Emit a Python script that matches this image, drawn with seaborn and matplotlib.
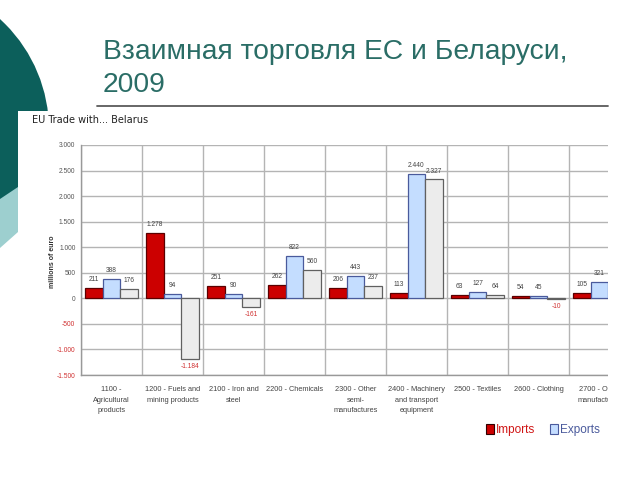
import numpy as np
import pandas as pd
import matplotlib
matplotlib.use("Agg")
import matplotlib.pyplot as plt
import seaborn as sns
from matplotlib.patches import Circle, Polygon, Rectangle, Patch

categories = ["1100 -\nAgricultural\nproducts", "1200 - Fuels and\nmining products",
              "2100 - Iron and\nsteel", "2200 - Chemicals", "2300 - Other\nsemi-\nmanufactures",
              "2400 - Machinery\nand transport\nequipment", "2500 - Textiles",
              "2600 - Clothing", "2700 - Other\nmanufactures"]
imports = [211, 1278, 251, 262, 206, 113, 63, 54, 105]
exports = [388, 94, 90, 822, 443, 2440, 127, 45, 321]
balance = [176, -1184, -161, 560, 237, 2327, 64, -10, np.nan]
series = ["Imports", "Exports", "Balance"]
yticks = [-1500, -1000, -500, 0, 500, 1000, 1500, 2000, 2500, 3000]

def fmt(v):
    s = f"{abs(int(v)):,}".replace(",", ".")
    return ("-" if v < 0 else "") + s

rows = []
for s, vals in zip(series, [imports, exports, balance]):
    for c, v in zip(categories, vals):
        rows.append({"category": c, "series": s, "value": v})
df = pd.DataFrame(rows)

sns.set_theme(style="white")
plt.rcParams["font.family"] = ["Liberation Sans", "DejaVu Sans"]

fig = plt.figure(figsize=(6.4, 4.8), dpi=100)

# slide background decorations
bg = fig.add_axes([0, 0, 1, 1], zorder=0)
bg.set_xlim(0, 640); bg.set_ylim(480, 0); bg.axis("off")
bg.add_patch(Circle((-101, 130), 150, color="#0c5f5b", lw=0))
bg.add_patch(Polygon([(0, 199), (18, 187), (18, 232), (0, 248)], closed=True, color="#9dcfcf", lw=0))
bg.add_patch(Rectangle((18, 111), 640, 400, color="white", lw=0))
bg.text(103, 59, "Взаимная торговля ЕС и Беларуси,", fontsize=20.3, color="#2a6d66", va="baseline", ha="left")
bg.text(103, 92, "2009", fontsize=20.3, color="#2a6d66", va="baseline", ha="left")
bg.plot([97, 608], [106, 106], color="#5a5a5a", lw=1.3)
bg.text(32, 120, "EU Trade with... Belarus", fontsize=7.8, color="#222222", va="center", ha="left",
        family="DejaVu Sans", fontstretch="condensed")
bg.text(52, 262, "millions of euro", fontsize=5, rotation=90, color="#333333", va="center", ha="center",
        fontweight="bold")

# chart
ax = fig.add_axes([81 / 640, 1 - 375 / 480, (630 - 81) / 640, (375 - 145) / 480], zorder=1)
palette = {"Imports": "#cc0000", "Exports": "#c4ddff", "Balance": "#ececec"}
sns.barplot(data=df, x="category", y="value", hue="series", hue_order=series, order=categories,
            palette=palette, width=0.87, ax=ax, legend=False, saturation=1)
edges = {"Imports": "#5a0000", "Exports": "#4a5a9c", "Balance": "#606060"}
for cont, s, vals in zip(ax.containers, series, [imports, exports, balance]):
    for p, v in zip(cont.patches, vals):
        if p is None or np.isnan(v):
            continue
        p.set_edgecolor(edges[s]); p.set_linewidth(0.9); p.set_zorder(3)
        xc = p.get_x() + p.get_width() / 2
        neg = v < 0
        ax.annotate(fmt(v), (xc, v), xytext=(0, -3 if neg else 3.5), textcoords="offset points",
                    ha="center", va="top" if neg else "bottom", fontsize=4.8,
                    color="#d03030" if neg else "#444444", zorder=4)

ax.set_ylim(-1500, 3000)
ax.set_xlim(-0.5, 8.5)
ax.set_yticks(yticks)
ax.set_yticklabels([fmt(v) for v in yticks])
for t, v in zip(ax.get_yticklabels(), yticks):
    t.set_color("#d03030" if v < 0 else "#555555")
ax.tick_params(axis="y", labelsize=4.8, length=0, pad=4)
ax.tick_params(axis="x", labelsize=5.3, length=0, pad=8, colors="#444444")
for t in ax.get_xticklabels():
    t.set_linespacing(1.7)
ax.set_xticks(np.arange(-0.5, 9.0, 1.0), minor=True)
ax.grid(axis="y", which="major", color="#b4b4b4", lw=1.0, zorder=0)
ax.grid(axis="x", which="minor", color="#b4b4b4", lw=1.0, zorder=0)
ax.set_axisbelow(True)
ax.set_xlabel(""); ax.set_ylabel("")
for sp in ["top", "right"]:
    ax.spines[sp].set_visible(False)
for sp in ["left", "bottom"]:
    ax.spines[sp].set_color("#999999"); ax.spines[sp].set_linewidth(1.0)

# crop overlay on right
ov = fig.add_axes([0, 0, 1, 1], zorder=5)
ov.set_xlim(0, 640); ov.set_ylim(480, 0); ov.axis("off"); ov.patch.set_alpha(0)
ov.add_patch(Rectangle((608, 125), 40, 300, color="white", lw=0))

handles = [Patch(facecolor="#cc0000", edgecolor="#300000", lw=0.8),
           Patch(facecolor="#c4ddff", edgecolor="#4a5a9c", lw=0.8)]
leg = ov.legend(handles, ["Imports", "Exports"], loc="center", bbox_to_anchor=(543 / 640, 1 - 430 / 480),
                bbox_transform=fig.transFigure, ncol=2, frameon=False, fontsize=8.5,
                handlelength=0.7, handleheight=0.9, handletextpad=0.2, columnspacing=1.2)
leg.get_texts()[0].set_color("#d01515")
leg.get_texts()[1].set_color("#4a5a9c")

fig.savefig("out.png", dpi=100)
